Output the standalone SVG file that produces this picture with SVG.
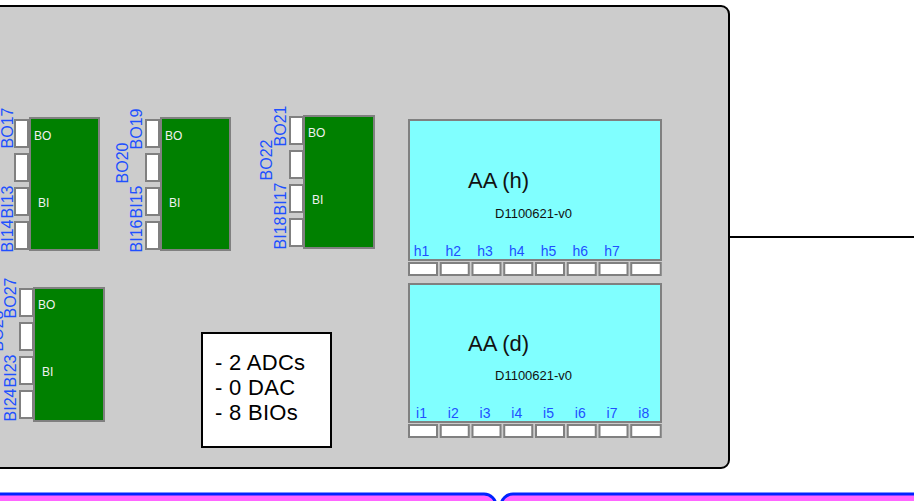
<svg xmlns="http://www.w3.org/2000/svg" width="914" height="501" viewBox="0 0 914 501">
<style>
text{font-family:"Liberation Sans",Arial,sans-serif}
.frame{fill:#cccccc;stroke:#000;stroke-width:2}
.blk{fill:#008000;stroke:#808080;stroke-width:2}
.pin{fill:#fff;stroke:#808080;stroke-width:2}
.bt{fill:#f0f0f0;font-size:12px}
.lbl{fill:#2050ff;font-size:16px;text-anchor:middle}
.aa{fill:#80ffff;stroke:#808080;stroke-width:2}
.ttl{fill:#111;font-size:22px}
.sub{fill:#111;font-size:13px}
.ch{fill:#2050ff;font-size:14px;text-anchor:middle}
.info{fill:#000;font-size:22px;letter-spacing:0.3px}
.bus{fill:#ff66ff;stroke:#0022ff;stroke-width:3}
.wire{stroke:#000;stroke-width:2;fill:none}
</style>
<g id="frame"><rect class="frame" x="-20" y="6" width="749" height="462" rx="8"/></g>

<g id="bio1">
<rect class="blk" x="30" y="118" width="69" height="132"/>
<rect class="pin" x="15" y="120" width="13" height="27"/>
<rect class="pin" x="15" y="154" width="13" height="27"/>
<rect class="pin" x="15" y="188" width="13" height="27"/>
<rect class="pin" x="15" y="222" width="13" height="27"/>
<text class="bt" x="34" y="140">BO</text>
<text class="bt" x="38" y="207">BI</text>
<text class="lbl" transform="translate(13,128) rotate(-90)">BO17</text>
<text class="lbl" transform="translate(13,202) rotate(-90)">BI13</text>
<text class="lbl" transform="translate(13,236) rotate(-90)">BI14</text>
</g>

<g id="bio2">
<rect class="blk" x="161" y="118" width="69" height="132"/>
<rect class="pin" x="146" y="120" width="13" height="27"/>
<rect class="pin" x="146" y="154" width="13" height="27"/>
<rect class="pin" x="146" y="188" width="13" height="27"/>
<rect class="pin" x="146" y="222" width="13" height="27"/>
<text class="bt" x="165" y="140">BO</text>
<text class="bt" x="169" y="207">BI</text>
<text class="lbl" transform="translate(142,129) rotate(-90)">BO19</text>
<text class="lbl" transform="translate(128,163) rotate(-90)">BO20</text>
<text class="lbl" transform="translate(142,202) rotate(-90)">BI15</text>
<text class="lbl" transform="translate(142,236) rotate(-90)">BI16</text>
</g>

<g id="bio3">
<rect class="blk" x="304" y="116" width="70" height="132"/>
<rect class="pin" x="290" y="117" width="13" height="27"/>
<rect class="pin" x="290" y="151" width="13" height="27"/>
<rect class="pin" x="290" y="185" width="13" height="27"/>
<rect class="pin" x="290" y="219" width="13" height="27"/>
<text class="bt" x="308" y="137">BO</text>
<text class="bt" x="312" y="204">BI</text>
<text class="lbl" transform="translate(286,126) rotate(-90)">BO21</text>
<text class="lbl" transform="translate(272,160) rotate(-90)">BO22</text>
<text class="lbl" transform="translate(286,199) rotate(-90)">BI17</text>
<text class="lbl" transform="translate(286,233) rotate(-90)">BI18</text>
</g>

<g id="bio4">
<rect class="blk" x="34" y="288" width="70" height="133"/>
<rect class="pin" x="20" y="289" width="13" height="27"/>
<rect class="pin" x="20" y="323" width="13" height="27"/>
<rect class="pin" x="20" y="357" width="13" height="27"/>
<rect class="pin" x="20" y="391" width="13" height="27"/>
<text class="bt" x="38" y="309">BO</text>
<text class="bt" x="42" y="376">BI</text>
<text class="lbl" transform="translate(16,298) rotate(-90)">BO27</text>
<text class="lbl" transform="translate(3,331) rotate(-90)">BO28</text>
<text class="lbl" transform="translate(16,371) rotate(-90)">BI23</text>
<text class="lbl" transform="translate(16,405) rotate(-90)">BI24</text>
</g>

<g id="aa_h">
<rect class="aa" x="409" y="120" width="252" height="140"/>
<rect class="pin" x="409" y="263" width="28" height="12"/>
<rect class="pin" x="440.75" y="263" width="28" height="12"/>
<rect class="pin" x="472.5" y="263" width="28" height="12"/>
<rect class="pin" x="504.25" y="263" width="28" height="12"/>
<rect class="pin" x="536" y="263" width="28" height="12"/>
<rect class="pin" x="567.75" y="263" width="28" height="12"/>
<rect class="pin" x="599.5" y="263" width="28" height="12"/>
<rect class="pin" x="631.25" y="263" width="29.5" height="12"/>
<text class="ttl" x="468" y="188">AA (h)</text>
<text class="sub" x="495" y="218">D1100621-v0</text>
<text class="ch" x="421.5" y="256">h1</text>
<text class="ch" x="453.3" y="256">h2</text>
<text class="ch" x="485" y="256">h3</text>
<text class="ch" x="516.8" y="256">h4</text>
<text class="ch" x="548.5" y="256">h5</text>
<text class="ch" x="580.3" y="256">h6</text>
<text class="ch" x="612" y="256">h7</text>
</g>

<g id="aa_d">
<rect class="aa" x="409" y="284" width="252" height="138"/>
<rect class="pin" x="409" y="425" width="28" height="12"/>
<rect class="pin" x="440.75" y="425" width="28" height="12"/>
<rect class="pin" x="472.5" y="425" width="28" height="12"/>
<rect class="pin" x="504.25" y="425" width="28" height="12"/>
<rect class="pin" x="536" y="425" width="28" height="12"/>
<rect class="pin" x="567.75" y="425" width="28" height="12"/>
<rect class="pin" x="599.5" y="425" width="28" height="12"/>
<rect class="pin" x="631.25" y="425" width="29.5" height="12"/>
<text class="ttl" x="468" y="351">AA (d)</text>
<text class="sub" x="495" y="380">D1100621-v0</text>
<text class="ch" x="421.5" y="418">i1</text>
<text class="ch" x="453.3" y="418">i2</text>
<text class="ch" x="485" y="418">i3</text>
<text class="ch" x="516.8" y="418">i4</text>
<text class="ch" x="548.5" y="418">i5</text>
<text class="ch" x="580.3" y="418">i6</text>
<text class="ch" x="612" y="418">i7</text>
<text class="ch" x="643.8" y="418">i8</text>
</g>

<g id="info">
<rect x="202" y="333" width="129" height="114" fill="#fff" stroke="#000" stroke-width="2"/>
<text class="info" x="215" y="370">- 2 ADCs</text>
<text class="info" x="215" y="395">- 0 DAC</text>
<text class="info" x="215" y="420">- 8 BIOs</text>
</g>

<g id="bus_left"><rect class="bus" x="-20" y="494" width="516" height="40" rx="12"/></g>
<g id="bus_right"><rect class="bus" x="501" y="494" width="440" height="40" rx="12"/></g>

<g id="connectors">
<line class="wire" x1="729" y1="237" x2="914" y2="237"/>
</g>
</svg>
